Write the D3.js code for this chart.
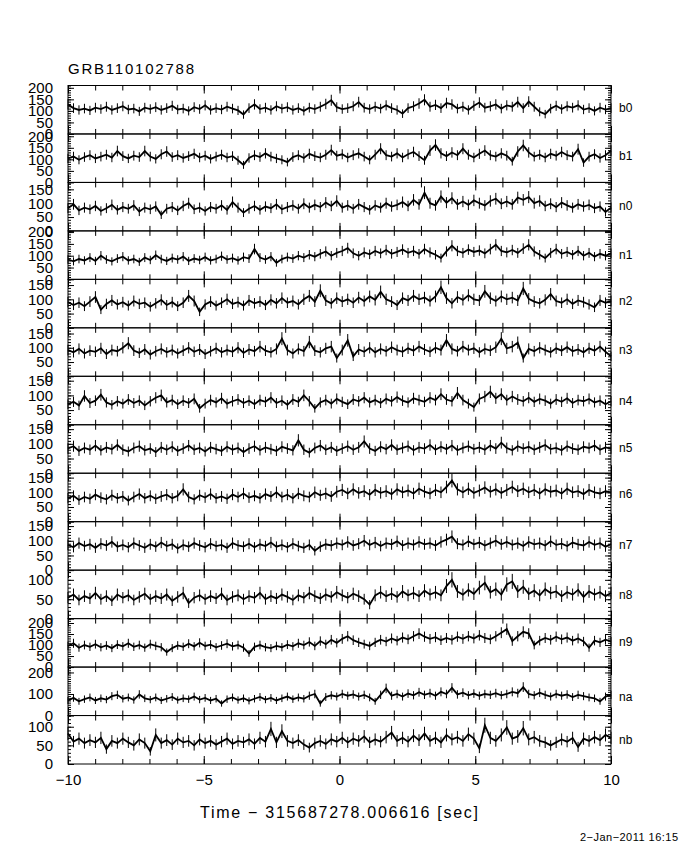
<!DOCTYPE html>
<html>
<head>
<meta charset="utf-8">
<script src="https://cdn.jsdelivr.net/npm/d3@7"></script>
<style>
body { margin: 0; background: #fff; }
text { font-family: "Liberation Sans", Arial, sans-serif; fill: #000; }
</style>
</head>
<body>
<div id="chart"></div>
<script>
// detector names, top to bottom
var detectors = ["b0","b1","n0","n1","n2","n3","n4","n5","n6","n7","n8","n9","na","nb"]
// upper end of each panel's count-rate axis
var yMax = [210,210,175,205,170,170,165,165,165,165,125,220,225,130]
// spacing of labelled ticks
var yStep = [50,50,50,50,50,50,50,50,50,50,50,50,100,50]

// rates, one value every 0.2 s from -10 s to +9.8 s
var b0 = [128,112,104,110,102,114,108,118,104,112,120,106,110,98,114,108,116,104,112,122,
  106,110,100,116,108,124,104,112,106,118,110,102,84,112,128,108,114,104,120,110,
  116,104,112,100,114,108,118,130,146,116,108,112,120,138,114,108,118,110,124,112,
  104,88,112,120,132,148,118,126,112,134,128,110,118,104,122,136,114,120,128,110,
  124,118,138,112,140,118,96,86,110,122,108,120,114,124,106,112,100,114,106,112]
var b1 = [104,112,98,110,118,104,112,120,108,136,114,104,116,110,136,112,102,122,134,110,
  118,106,114,124,108,116,102,112,120,108,114,96,76,106,118,110,126,112,104,98,
  88,110,118,106,124,114,108,120,140,116,122,108,118,126,112,98,120,146,118,112,
  126,108,122,132,114,96,138,162,126,114,130,118,146,120,108,124,138,118,112,126,
  116,92,134,160,130,112,120,108,124,116,132,118,112,144,86,112,122,106,118,138]
var n0 = [82,96,74,84,78,90,72,82,94,76,86,80,92,70,84,78,88,58,80,86,
  74,90,100,78,84,72,86,80,92,76,104,84,66,80,90,76,88,82,96,78,
  86,92,80,98,84,94,86,102,90,108,84,92,80,96,86,76,92,84,100,88,
  94,104,90,112,96,138,100,92,124,102,118,96,106,94,110,100,92,108,116,98,
  106,96,120,112,122,100,108,90,98,86,102,92,84,96,88,94,82,88,68,84]
var n1 = [84,76,86,80,92,78,100,84,76,88,96,80,86,74,92,82,102,86,78,90,
  84,96,78,88,82,94,80,86,98,84,90,80,94,88,128,92,84,96,70,86,
  94,88,100,92,104,96,108,118,100,112,120,132,110,100,114,106,120,110,124,108,
  116,126,112,120,108,128,114,104,90,118,142,120,112,126,116,122,110,128,146,120,
  114,124,112,130,146,118,104,90,112,128,108,116,104,120,100,112,96,108,100,110]
var n2 = [90,80,88,76,92,108,64,84,96,82,90,78,94,84,88,74,86,98,80,90,
  76,88,112,94,56,82,92,78,88,100,84,90,78,96,86,92,80,98,86,104,
  88,94,82,100,112,92,130,96,86,104,92,100,88,106,94,110,98,126,100,92,
  80,104,96,112,100,106,94,110,142,104,86,108,98,114,100,96,128,104,94,110,
  100,106,96,138,102,92,86,98,118,94,88,100,84,96,90,82,72,96,88,94]
var n3 = [92,84,96,80,90,86,98,78,92,88,100,116,90,82,94,76,88,96,84,92,
  80,90,100,86,94,78,88,98,84,92,86,100,82,94,88,104,90,84,96,132,
  92,80,96,88,120,90,84,98,104,64,92,126,70,94,86,100,84,96,88,102,
  92,86,98,90,104,94,86,100,92,126,96,88,104,92,98,84,96,90,102,132,
  98,104,118,64,96,88,100,92,84,98,90,102,88,94,84,98,90,104,86,70]
var n4 = [70,78,66,98,74,82,102,76,68,80,72,86,74,82,66,80,92,100,76,84,
  70,82,74,88,56,72,84,76,90,72,80,86,74,82,70,84,78,92,74,82,
  68,86,78,100,80,56,76,84,72,88,78,70,86,80,92,76,84,74,88,80,
  94,82,76,90,84,78,92,84,104,86,80,108,84,72,60,88,96,112,90,104,
  84,96,86,80,92,78,88,82,72,86,78,90,74,84,80,88,76,82,70,80]
var n5 = [84,92,76,86,80,94,78,88,82,96,80,74,86,92,78,84,72,88,80,90,
  76,84,94,80,86,74,88,82,76,90,80,86,72,84,92,78,88,82,76,90,
  84,78,112,80,70,86,94,80,88,76,84,92,80,88,108,84,76,90,82,96,
  80,86,92,78,88,84,96,80,90,82,94,78,86,92,82,88,80,94,84,104,
  86,78,92,84,90,80,88,96,82,86,78,92,84,80,90,86,94,80,88,84]
var n6 = [80,88,74,84,78,92,82,76,90,80,86,72,84,94,80,88,78,86,92,80,
  88,110,84,76,90,82,94,80,86,78,92,84,96,82,88,80,94,86,100,84,
  92,80,96,88,84,100,90,96,86,102,108,96,110,98,104,92,108,98,104,94,
  110,100,106,96,112,102,96,108,100,118,140,110,100,112,98,106,116,102,110,98,
  108,118,104,112,100,108,96,110,102,106,96,112,100,104,94,108,100,96,104,100]
var n7 = [86,78,92,82,88,76,90,84,96,80,86,78,92,84,76,88,80,94,82,88,
  74,86,80,92,84,78,90,82,86,76,92,84,80,90,78,88,82,94,80,86,
  78,90,82,76,86,66,80,88,84,92,86,96,84,90,100,86,94,82,92,88,
  98,84,92,86,96,88,92,84,96,104,114,90,86,98,88,94,84,92,100,88,
  96,86,92,82,96,88,92,84,98,86,90,82,94,88,84,96,86,92,80,88]
var n8 = [54,62,48,58,52,66,50,58,46,62,54,60,48,56,64,50,58,52,62,46,
  56,66,40,54,60,50,58,52,64,48,56,60,50,58,54,66,50,58,52,62,
  56,48,60,54,66,58,52,62,56,68,60,54,64,58,50,36,60,68,58,64,
  56,70,60,66,58,72,62,68,60,84,100,70,62,74,64,80,92,68,76,62,
  88,96,70,82,64,72,60,76,66,70,58,68,62,74,56,70,62,68,58,66]
var n9 = [96,108,88,100,92,104,90,98,86,102,94,108,92,100,88,104,96,90,68,86,
  98,92,106,94,110,96,102,90,98,106,94,100,88,62,92,100,90,86,96,90,
  102,94,108,100,114,96,118,104,124,110,128,140,122,112,104,96,112,124,116,130,
  120,134,126,140,152,138,128,136,122,132,124,138,128,140,130,144,132,126,140,156,
  172,118,140,160,152,100,120,132,124,138,126,134,120,130,116,88,120,112,124,116]
var na = [70,82,66,76,84,70,80,74,90,96,78,84,72,98,80,74,84,70,78,86,
  72,80,76,88,74,82,70,78,56,76,84,72,80,68,78,86,74,82,70,80,
  88,76,84,78,92,100,56,86,94,88,100,92,98,88,96,84,66,96,126,92,
  100,88,102,94,108,96,104,92,110,100,128,98,106,94,102,92,100,96,104,94,
  100,110,104,132,100,94,106,96,88,100,92,98,86,96,90,84,80,66,88,96]
var nb = [82,60,68,56,64,58,70,40,62,56,68,58,50,66,56,34,78,56,64,52,
  68,58,62,50,66,56,62,52,60,68,54,62,58,66,54,70,60,94,58,88,
  62,56,64,52,44,56,62,54,66,60,70,58,68,62,74,58,66,60,72,84,
  62,70,60,76,64,82,62,70,58,78,66,72,62,80,68,42,104,70,62,78,
  98,68,74,96,66,72,62,58,50,58,66,60,70,46,68,62,72,64,78,70]

var series = [b0,b1,n0,n1,n2,n3,n4,n5,n6,n7,n8,n9,na,nb]
var timeMin = -10, timeMax = 10
var countBin = 0.256   // seconds per accumulation, for the Poisson error bars

var title = "GRB110102788"
var xTitle = "Time \u2212 315687278.006616 [sec]"
var stamp = "2\u2212Jan\u22122011 16:15"

var width = 680, height = 850
var plotLeft = 68, plotRight = 611, plotTop = 85.5, plotBottom = 764
var panelH = (plotBottom - plotTop) / detectors.length

var svg = d3.select("#chart").append("svg").attr("width", width).attr("height", height)

var x = d3.scaleLinear().domain([timeMin, timeMax]).range([plotLeft, plotRight])
var minorT = d3.range(timeMin, timeMax + 1, 1)
var majorT = d3.range(timeMin, timeMax + 1, 5)

function timeOf(j, n) { return timeMin + j * (timeMax - timeMin) / (n - 1) }

function clean(g) {
    g.select(".domain").remove()
    g.selectAll("line").attr("stroke", "#000").attr("stroke-width", 1)
}

detectors.forEach(function(name, i) {
    var y0 = plotTop + i * panelH, y1 = y0 + panelH
    var y = d3.scaleLinear().domain([0, yMax[i]]).range([y1, y0])
    var g = svg.append("g")
    var data = series[i]

    // x ticks along top and bottom of each panel, pointing inward
    g.append("g").attr("transform", "translate(0," + y0 + ")")
        .call(d3.axisTop(x).tickValues(minorT).tickSize(-5).tickFormat("")).call(clean)
    g.append("g").attr("transform", "translate(0," + y0 + ")")
        .call(d3.axisTop(x).tickValues(majorT).tickSize(-8).tickFormat("")).call(clean)
    g.append("g").attr("transform", "translate(0," + y1 + ")")
        .call(d3.axisBottom(x).tickValues(minorT).tickSize(-5).tickFormat("")).call(clean)
    g.append("g").attr("transform", "translate(0," + y1 + ")")
        .call(d3.axisBottom(x).tickValues(majorT).tickSize(-8).tickFormat("")).call(clean)

    // y ticks, left and right
    var minorY = d3.range(0, yMax[i] + 0.1, 10)
    var majorY = d3.range(0, yMax[i] + 0.1, yStep[i])
    g.append("g").attr("transform", "translate(" + plotLeft + ",0)")
        .call(d3.axisLeft(y).tickValues(minorY).tickSize(-3).tickFormat("")).call(clean)
    g.append("g").attr("transform", "translate(" + plotLeft + ",0)")
        .call(d3.axisLeft(y).tickValues(majorY).tickSize(-6).tickPadding(15).tickFormat(d3.format("d")))
        .call(clean)
        .selectAll("text").attr("font-size", 15).attr("font-family", "Liberation Sans, Arial, sans-serif")
    g.append("g").attr("transform", "translate(" + plotRight + ",0)")
        .call(d3.axisRight(y).tickValues(minorY).tickSize(-3).tickFormat("")).call(clean)
    g.append("g").attr("transform", "translate(" + plotRight + ",0)")
        .call(d3.axisRight(y).tickValues(majorY).tickSize(-6).tickFormat("")).call(clean)

    // frame
    g.append("rect").attr("x", plotLeft).attr("y", y0).attr("width", plotRight - plotLeft).attr("height", panelH)
        .attr("fill", "none").attr("stroke", "#000").attr("stroke-width", 1)

    // error bars
    g.selectAll(".err").data(data).enter().append("line")
        .attr("x1", function(d, j) { return x(timeOf(j, data.length)) })
        .attr("x2", function(d, j) { return x(timeOf(j, data.length)) })
        .attr("y1", function(d) { return y(d + Math.sqrt(d / countBin)) })
        .attr("y2", function(d) { return y(d - Math.sqrt(d / countBin)) })
        .attr("stroke", "#000").attr("stroke-width", 1)

    // light curve
    var line = d3.line()
        .x(function(d, j) { return x(timeOf(j, data.length)) })
        .y(function(d) { return y(d) })
    g.append("path").attr("d", line(data))
        .attr("fill", "none").attr("stroke", "#000").attr("stroke-width", 1.8)

    // detector label on the right
    g.append("text").attr("x", 619).attr("y", y(d3.mean(data)))
        .attr("dy", "0.35em").attr("font-size", 12).text(name)
})

// time labels under the last panel
svg.append("g").attr("transform", "translate(0," + plotBottom + ")")
    .call(d3.axisBottom(x).tickValues(majorT).tickSize(0).tickPadding(10))
    .call(clean)
    .selectAll("text").attr("font-size", 15).attr("font-family", "Liberation Sans, Arial, sans-serif")

svg.append("text").attr("x", 68).attr("y", 74).attr("font-size", 15)
    .attr("textLength", 126).attr("lengthAdjust", "spacing").text(title)
svg.append("text").attr("x", 200).attr("y", 818).attr("font-size", 16)
    .attr("textLength", 278).attr("lengthAdjust", "spacing").text(xTitle)
svg.append("text").attr("x", 580).attr("y", 841).attr("font-size", 11)
    .attr("textLength", 98).attr("lengthAdjust", "spacing").text(stamp)
</script>
</body>
</html>
